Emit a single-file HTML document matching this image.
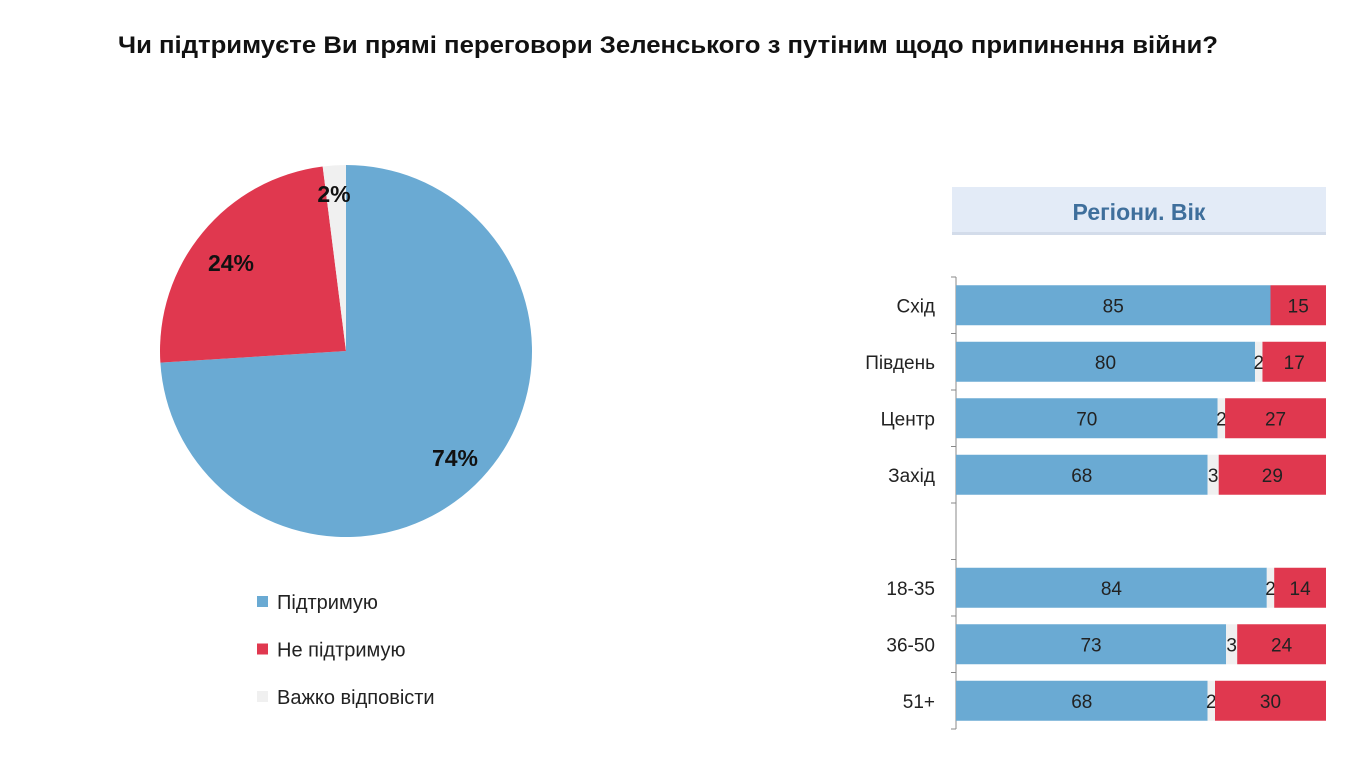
<!DOCTYPE html>
<html><head><meta charset="utf-8"><style>
body{margin:0;width:1363px;height:768px;background:#fff;font-family:"Liberation Sans",sans-serif;overflow:hidden}
</style></head><body>
<svg width="1363" height="768" xmlns="http://www.w3.org/2000/svg">
<text x="118" y="53" font-size="24" font-weight="bold" fill="#111" textLength="1100" lengthAdjust="spacingAndGlyphs">Чи підтримуєте Ви прямі переговори Зеленського з путіним щодо припинення війни?</text>
<g id="pie"></g>
<g id="legend"></g>
<rect x="952" y="187" width="374" height="48" fill="#e3ebf7"/>
<rect x="952" y="232" width="374" height="3" fill="#d3dcea"/>
<text x="1139" y="220" text-anchor="middle" font-size="23" font-weight="bold" fill="#3f6f9c">Регіони. Вік</text>
<g id="bars"></g>
</svg>
<script>
const pieLabels=["Підтримую","Не підтримую","Важко відповісти"];
const pieValues=[74,24,2];
const pieColors=["#6aaad3","#e0384f","#f0f0f0"];
const categories=["Схід","Південь","Центр","Захід","","18-35","36-50","51+"];
const support=[85,80,70,68,null,84,73,68];
const hard=[0,2,2,3,null,2,3,2];
const against=[15,17,27,29,null,14,24,30];
const NS="http://www.w3.org/2000/svg";
function mk(tag,attrs,parent){const e=document.createElementNS(NS,tag);for(const k in attrs)e.setAttribute(k,attrs[k]);parent.appendChild(e);return e;}
// pie
const pie=document.getElementById('pie');
const cx=346,cy=351,r=186;
const tot=pieValues.reduce((a,b)=>a+b,0);
let ang=0;
const pieLblPos=[[455,458],[231,263],[334,194]];
pieValues.forEach((v,i)=>{
  const a1=ang+v/tot*2*Math.PI;
  const px0=cx+r*Math.sin(ang),py0=cy-r*Math.cos(ang),px1=cx+r*Math.sin(a1),py1=cy-r*Math.cos(a1);
  const p=mk('path',{d:`M${cx},${cy}L${px0},${py0}A${r},${r} 0 ${a1-ang>Math.PI?1:0} 1 ${px1},${py1}Z`,fill:pieColors[i]},pie);
  
  
  const t=mk('text',{x:pieLblPos[i][0],y:pieLblPos[i][1]+8,'text-anchor':'middle','font-size':'23','font-weight':'bold',fill:'#111'},pie);
  t.textContent=v+'%';
  
  
  ang=a1;
});
// legend
const lg=document.getElementById('legend');
pieLabels.forEach((l,i)=>{
  const y=602+i*47.5;
  const s=mk('rect',{x:257,y:y-6,width:11,height:11,fill:pieColors[i]},lg);
  
  
  const t=mk('text',{x:277,y:y+7,'font-size':'20',fill:'#222'},lg);
  t.textContent=l;
  
  
});
// bars
const bg=document.getElementById('bars');
const barX0=956,barW=370,barTop=277,step=56.5,bh=40;
const ax=mk('line',{x1:barX0,y1:barTop,x2:barX0,y2:barTop+step*categories.length,stroke:'#888','stroke-width':1},bg);


for(let i=0;i<=categories.length;i++){
  const tk=mk('line',{x1:barX0-5,y1:barTop+i*step,x2:barX0,y2:barTop+i*step,stroke:'#888'},bg);
  
  
}
categories.forEach((c,i)=>{
  const yc=barTop+step*i+step/2;
  if(c){const t=mk('text',{x:935,y:yc+7,'text-anchor':'end','font-size':'19',fill:'#222'},bg);t.textContent=c;
    
    }
  if(support[i]==null)return;
  const rowTot=support[i]+hard[i]+against[i];
  const sc=barW/rowTot;
  let x=barX0;
  const segs=[[support[i],'#6aaad3'],[hard[i],'#f0f0f0'],[against[i],'#e0384f']];
  segs.forEach((s,j)=>{
    const w=s[0]*sc;
    const rc=mk('rect',{x:x,y:yc-bh/2,width:w,height:bh,fill:s[1]},bg);
    
    
    if(s[0]>0){const t=mk('text',{x:x+w/2,y:yc+7,'text-anchor':'middle','font-size':'19',fill:'#222'},bg);t.textContent=s[0];
      
      }
    x+=w;
  });
});
</script>
</body></html>
